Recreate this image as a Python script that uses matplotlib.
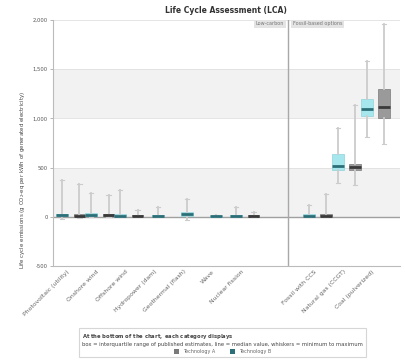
import matplotlib
matplotlib.use("Agg")
import matplotlib.pyplot as plt
import numpy as np
from matplotlib.patches import Patch

# categories (left: low-carbon, right: fossil-based)
categories = ["Photovoltaic (utility)", "Onshore wind", "Offshore wind",
              "Hydropower (dam)", "Geothermal (flash)", "Wave",
              "Nuclear fission", "Fossil with CCS", "Natural gas (CCGT)",
              "Coal (pulverized)"]
positions = [0, 1, 2, 3, 4, 5, 6, 8.5, 9.5, 10.5]

# Technology B (cyan)
b_med = [15, 20, 12, 10, 25, 5, 12, 10, 520, 1100]
b_q1 = [5, 10, 5, 5, 10, 2, 6, 5, 480, 1020]
b_q3 = [30, 35, 25, 20, 45, 10, 20, 25, 640, 1200]
b_lo = [-20, 0, 0, 0, -30, -5, 2, 0, 340, 815]
b_hi = [375, 245, 275, 100, 185, 20, 100, 120, 900, 1580]

# Technology A (grey)
a_med = [12, 15, 10, np.nan, np.nan, np.nan, 8, 12, 510, 1120]
a_q1 = [5, 8, 4, np.nan, np.nan, np.nan, 3, 5, 480, 1000]
a_q3 = [25, 30, 20, np.nan, np.nan, np.nan, 15, 25, 540, 1300]
a_lo = [-10, 0, 0, np.nan, np.nan, np.nan, 0, 0, 325, 745]
a_hi = [335, 225, 70, np.nan, np.nan, np.nan, 50, 235, 1140, 1960]

yticks = [-500, 0, 500, 1000, 1500, 2000]

fig = plt.figure(figsize=(4.06, 3.64), dpi=100)
ax = fig.add_axes([0.13, 0.269, 0.855, 0.676])

# alternating bands
for lo, hi in [(0, 500), (1000, 1500)]:
    ax.axhspan(lo, hi, color="#f2f2f2", zorder=0, lw=0)
for t in yticks:
    ax.axhline(t, color="#e0e0e0", lw=0.6, zorder=0.5)
ax.axhline(0, color="#a0a0a0", lw=1.0, zorder=1)
ax.axvline(7.5, color="#a8a8a8", lw=1.0, zorder=1)


def stats(med, q1, q3, lo, hi):
    return [dict(med=med, q1=q1, q3=q3, whislo=lo, whishi=hi, fliers=[])]


for i, p in enumerate(positions):
    has_a = not np.isnan(a_med[i])
    off = 0.3 if has_a else 0.0
    ax.bxp(stats(b_med[i], b_q1[i], b_q3[i], b_lo[i], b_hi[i]),
           positions=[p - off], widths=0.4, patch_artist=True,
           boxprops=dict(facecolor="#a6e7ee", edgecolor="#8fd3da", lw=0.5),
           medianprops=dict(color="#2c6f78", lw=2.0),
           whiskerprops=dict(color="#cccccc", lw=1.3),
           capprops=dict(color="#cccccc", lw=0.8), capwidths=0.15,
           manage_ticks=False, zorder=3)
    if has_a:
        ax.bxp(stats(a_med[i], a_q1[i], a_q3[i], a_lo[i], a_hi[i]),
               positions=[p + off], widths=0.4, patch_artist=True,
               boxprops=dict(facecolor="#9a9a9a", edgecolor="#7a7a7a", lw=0.5),
               medianprops=dict(color="#3a3a3a", lw=2.0),
               whiskerprops=dict(color="#cccccc", lw=1.3),
               capprops=dict(color="#cccccc", lw=0.8), capwidths=0.15,
               manage_ticks=False, zorder=3)

ax.set_xlim(-0.62, 11.34)
ax.set_ylim(-500, 2000)
ax.set_yticks(yticks)
ax.set_yticklabels(["{:,}".format(t) for t in yticks], fontsize=3.8, color="#555555")
ax.set_xticks(positions)
ax.set_xticklabels(categories, rotation=45, ha="right", fontsize=4.4, color="#666666")
ax.tick_params(axis="x", length=0, pad=2)
ax.tick_params(axis="y", length=2, width=0.5, color="#999999", pad=1.5)

for s in ["top", "right"]:
    ax.spines[s].set_visible(False)
for s in ["left", "bottom"]:
    ax.spines[s].set_color("#bbbbbb")
    ax.spines[s].set_linewidth(0.8)

ax.set_ylabel("Life cycle emissions (g CO$_2$-eq per kWh of generated electricity)",
              fontsize=4.0, color="#444444")
ax.yaxis.set_label_coords(-0.075, 0.35)

ax.set_title("Life Cycle Assessment (LCA)", fontsize=5.5, fontweight="bold",
             color="#333333", pad=5)

# group headers
ax.text(7.35, 1985, "Low-carbon", fontsize=3.5, color="#777777", ha="right", va="top",
        bbox=dict(boxstyle="square,pad=0.3", facecolor="#e4e4e4", edgecolor="none"))
ax.text(7.65, 1985, "Fossil-based options", fontsize=3.5, color="#777777", ha="left",
        va="top", bbox=dict(boxstyle="square,pad=0.3", facecolor="#e4e4e4", edgecolor="none"))

# legend
handles = [Patch(facecolor="#7a7a7a", edgecolor="none", label="Technology A"),
           Patch(facecolor="#2c6f78", edgecolor="none", label="Technology B")]
leg = fig.legend(handles=handles, loc="center", bbox_to_anchor=(0.548, 0.058), ncol=2,
                 fontsize=3.5, title_fontsize=3.8, frameon=True, handlelength=1.0,
                 handleheight=1.0, columnspacing=3.0, borderpad=0.7,
                 title="$\\bf{At\\ the\\ bottom\\ of\\ the\\ chart,\\ each\\ category\\ displays}$\n"
                       "box = interquartile range of published estimates, line = median value, "
                       "whiskers = minimum to maximum")
leg.get_frame().set_edgecolor("#cccccc")
leg.get_frame().set_linewidth(0.8)
leg.get_frame().set_boxstyle("square", pad=0.0)
for t in leg.get_texts():
    t.set_color("#666666")
leg.get_title().set_color("#444444")

fig.savefig("out.png", dpi=100)
